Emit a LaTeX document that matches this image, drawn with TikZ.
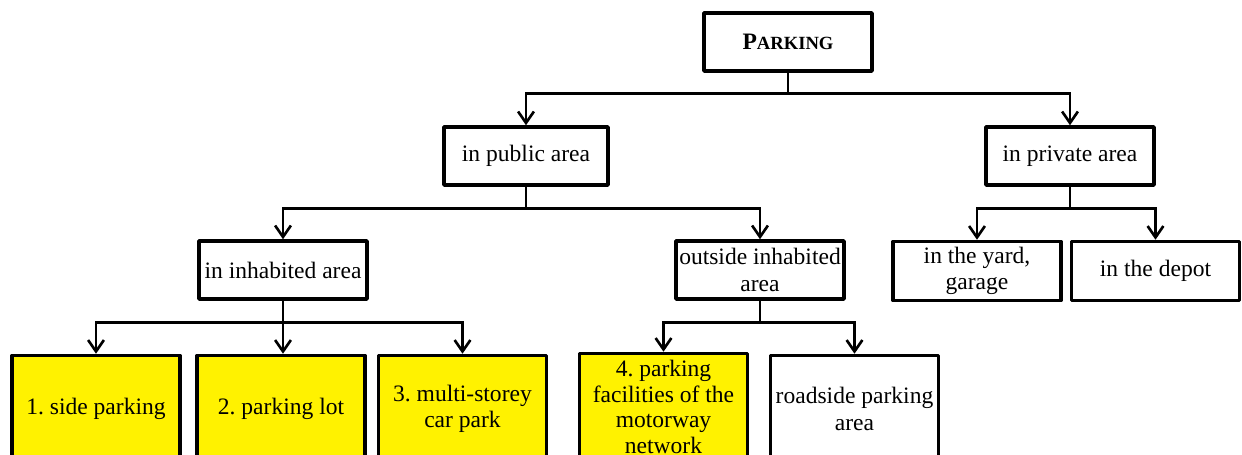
\documentclass[tikz,border=0pt]{standalone}
\usepackage{fontspec}
\setmainfont{Liberation Serif}
\frenchspacing
\usetikzlibrary{arrows.meta}
\tikzset{box/.style={draw, rectangle, line width=2pt, line join=round, minimum width=3.36cm, minimum height=1.16cm, inner sep=1pt, align=center, font=\fontsize{13.4}{15}\selectfont},
  leaf/.style={box, minimum height=2.14cm, fill=yellow}, other/.style={box, minimum height=2.14cm},
  link/.style={line width=1.5pt}, arr/.style={link, -{Straight Barb[length=6.5pt,width=9pt]}}}

\begin{document}
\begin{tikzpicture}[x=0.02cm,y=-0.02cm]
    \useasboundingbox (0,0) rectangle (1242,455);
    % levels
    \node[box] (P) at (788,42) {\bfseries P\fontsize{10.6}{12}\selectfont ARKING};
    \node[box, minimum width=3.28cm] (Pub) at (526,156) {in public area};
    \node[box] (Priv) at (1070,156) {in private area};
    \node[box] (Inh) at (283,270) {in inhabited area};
    \node[box] (Out) at (760,270) {outside inhabited\\area};
    \node[box, minimum height=1.18cm] (Yard) at (977,271) {in the yard,\\garage};
    \node[box, minimum height=1.18cm] (Depot) at (1155.5,271) {in the depot};
    \node[leaf] (L1) at (96,409) {1. side parking};
    \node[leaf] (L2) at (281,409) {2. parking lot};
    \node[leaf] (L3) at (462.5,409) {3. multi-storey\\car park};
    \node[leaf, font=\fontsize{13.4}{14.6}\selectfont] (L4) at (663.5,407) {4. parking\\facilities of the\\motorway\\network};
    \node[other] (R) at (854.5,409) {roadside parking\\area};
    % connectors
    \draw[link] (P.south) -- ++(0,21) coordinate (J1);
    \draw[arr] (J1) -| (Pub.north);
    \draw[arr] (J1) -| (Priv.north);
    \draw[link] (Pub.south) -- ++(0,22) coordinate (J2);
    \draw[arr] (J2) -| (Inh.north);
    \draw[arr] (J2) -| (Out.north);
    \draw[link] (Priv.south) -- ++(0,22) coordinate (J3);
    \draw[arr] (J3) -| (Yard.north);
    \draw[arr] (J3) -| (Depot.north);
    \draw[link] (Inh.south) -- ++(0,22) coordinate (J4);
    \draw[arr] (J4) -| (L1.north);
    \draw[arr] (J4) -- (J4 |- L2.north);
    \draw[arr] (J4) -| (L3.north);
    \draw[link] (Out.south) -- ++(0,22) coordinate (J5);
    \draw[arr] (J5) -| (L4.north);
    \draw[arr] (J5) -| (R.north);
\end{tikzpicture}
\end{document}
